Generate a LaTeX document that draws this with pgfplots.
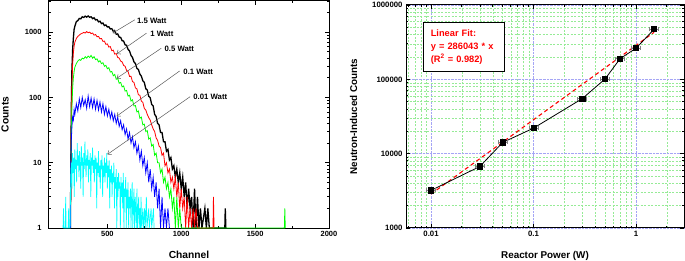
\documentclass[border=0pt]{standalone}
\usepackage{fontspec}
\setmainfont{Liberation Sans}
\usepackage{pgfplots}
\pgfplotsset{compat=1.18}
\usetikzlibrary{arrows.meta}
\definecolor{gridblue}{RGB}{165,165,245}
\definecolor{gridgreen}{RGB}{150,235,150}
\definecolor{cyanc}{RGB}{0,255,255}
\definecolor{greenc}{RGB}{0,255,0}
\definecolor{bluec}{RGB}{0,0,255}
\definecolor{redc}{RGB}{255,0,0}
\begin{document}
\begin{tikzpicture}
\useasboundingbox (-49bp,-33bp) rectangle (636bp,228bp);
\begin{axis}[
  at={(0bp,0bp)}, anchor=south west,
  scale only axis, width=280bp, height=227bp,
  ymode=log, xmin=105, xmax=2000, ymin=1, ymax=3000,
  xtick={500,1000,1500,2000}, xticklabels={500,1000,1500,2000},
  minor xtick={250,750,1250,1750},
  ytick={1,10,100,1000}, yticklabels={1,10,100,1000},
  minor ytick={2,3,4,5,6,7,8,9,20,30,40,50,60,70,80,90,200,300,400,500,600,700,800,900,2000,3000},
  tick align=inside,
  major tick length=4bp, minor tick length=2.5bp,
  axis line style={line width=1bp},
  every tick/.style={black, line width=0.8bp},
  ticklabel style={font=\fontsize{7.5}{9}\selectfont\bfseries},
  yticklabel style={xshift=-4bp},
  xlabel={Channel}, ylabel={Counts},
  label style={font=\fontsize{10.3}{12}\selectfont\bfseries},
  xlabel style={at={(axis description cs:0.5,-0.119)}, anchor=center},
  ylabel style={at={(axis description cs:-0.157,0.5)}, anchor=center},
]
% 1.5 W
\addplot[black, line width=1.3bp] coordinates {
(250,1)(253,12)(256,70)(260,260)(265,540)(270,820)(275,1100)(280,1230)(290,1450)(300,1500)
(310,1620)(320,1600)(330,1720)(340,1680)(350,1760)(360,1700)(370,1770)(380,1690)(390,1720)(400,1610)
(410,1660)(420,1540)(430,1560)(440,1440)(450,1470)(460,1350)(470,1380)(480,1260)(490,1290)(500,1200)
(510,1210)(520,1120)(530,1130)(540,1030)(550,1050)(560,930)(570,940)(580,840)(590,830)(600,740)
(610,730)(620,640)(630,630)(640,545)(650,515)(660,440)(670,410)(680,350)(690,330)(700,278)
(710,268)(720,228)(730,212)(740,180)(750,170)(760,136)(770,130)(780,104)(790,99)(800,78)
(810,74)(820,55)(830,51)(840,40)(850,38)(860,29)(870,29)(880,21)(890,21)(900,15)
(910,16)(920,11)(930,12)(940,8)(950,9)(960,6)(970,8)(980,5)(990,7)(1000,4)
(1010,6)(1020,3)(1030,5)(1040,2)(1050,4)(1060,2)(1070,3)(1080,1)(1090,4)(1100,1)
(1110,3)(1120,1)(1130,2)(1140,1)(1160,2)(1170,1)(1180,2)(1190,1)(1295,1)(1298,2)(1302,1)
};
% 1 W
\addplot[redc, line width=0.8bp] coordinates {
(250,1)(253,10)(256,45)(260,150)(265,320)(270,480)(275,610)(280,700)(290,800)(300,860)
(310,900)(320,940)(330,960)(340,990)(350,970)(360,1020)(370,980)(380,1000)(390,950)(400,970)
(410,900)(420,920)(430,850)(440,860)(450,790)(460,800)(470,720)(480,730)(490,650)(500,660)
(510,590)(520,600)(530,520)(540,530)(550,460)(560,470)(570,410)(580,400)(590,360)(600,350)
(610,310)(620,300)(630,260)(640,250)(650,210)(660,210)(670,175)(680,170)(690,140)(700,135)
(710,110)(720,108)(730,88)(740,84)(750,68)(760,64)(770,55)(780,49)(790,45)(800,38)
(810,33)(820,30)(830,24)(840,22)(850,18)(860,17)(870,13)(880,14)(890,9)(900,10)
(910,7)(920,8)(930,5)(940,6)(950,4)(960,6)(970,3)(980,5)(990,2)(1000,4)
(1010,2)(1020,3)(1030,1)(1040,3)(1050,1)(1060,2)(1070,1)(1080,2)(1090,1)(1100,2)(1110,1)
(1215,1)(1218,3)(1222,1)
};
% 0.5 W
\addplot[greenc, line width=0.8bp] coordinates {
(250,1)(253,8)(256,25)(260,70)(265,140)(270,200)(275,250)(280,290)(290,330)(300,360)
(310,380)(320,370)(330,400)(340,390)(350,420)(360,400)(370,430)(380,410)(390,440)(400,400)
(410,420)(420,380)(430,390)(440,350)(450,365)(460,330)(470,340)(480,300)(490,310)(500,275)
(510,285)(520,245)(530,250)(540,215)(550,225)(560,190)(570,195)(580,165)(590,170)(600,145)
(610,150)(620,125)(630,128)(640,105)(650,108)(660,88)(670,92)(680,74)(690,75)(700,60)
(710,62)(720,48)(730,50)(740,38)(750,39)(760,30)(770,31)(780,23)(790,24)(800,18)
(810,19)(820,13)(830,14)(840,10)(850,10)(860,7)(870,8)(880,5)(890,6)(900,4)
(910,5)(920,3)(930,4)(940,2)(950,3)(960,1)(970,3)(980,1)(990,2)(1000,1)
(1698,1)(1701,2)(1704,1)
};
% 0.1 W
\addplot[bluec, line width=0.8bp] coordinates {
(250,1)(253,10)(256,22)(260,35)(265,50)(270,45)(275,65)(280,55)(290,80)(300,62)
(310,95)(320,70)(330,100)(340,75)(350,92)(360,68)(370,105)(380,72)(390,98)(400,70)
(410,95)(420,66)(430,90)(440,64)(450,85)(460,60)(470,80)(480,55)(490,72)(500,52)
(510,66)(520,48)(530,60)(540,44)(550,55)(560,40)(570,50)(580,36)(590,44)(600,32)
(610,38)(620,27)(630,33)(640,23)(650,29)(660,20)(670,25)(680,17)(690,21)(700,14)
(710,18)(720,11)(730,15)(740,9)(750,12)(760,7)(770,10)(780,5)(790,8)(800,4)
(810,6)(820,3)(830,5)(840,2)(850,4)(860,1)(870,3)(880,1)(890,2)(900,1)(910,2)(920,1)
};
% 0.01 W
\addplot[cyanc, line width=0.7bp] coordinates {
(200,1)(203,2)(206,1)(215,1)(218,3)(221,1)(235,1)(238,2)(241,1)(248,1)
(252,6)(256,10)(260,4)(264,14)(268,7)(272,12)(276,3)(280,16)(284,8)(288,11)
(292,5)(296,20)(300,9)(304,13)(308,6)(312,15)(316,10)(320,4)(324,18)(328,9)
(332,12)(336,3)(340,14)(344,8)(348,21)(352,10)(356,6)(360,13)(364,9)(368,16)
(372,5)(376,11)(380,8)(384,14)(388,3)(392,12)(396,9)(400,17)(404,7)(408,11)
(412,5)(416,13)(420,8)(424,12)(428,2)(432,10)(436,7)(440,15)(444,6)(448,9)
(452,4)(456,11)(460,8)(464,13)(468,3)(472,9)(476,6)(480,12)(484,5)(488,10)
(492,7)(496,14)(500,4)(504,9)(508,6)(512,11)(516,2)(520,8)(524,5)(528,9)
(532,3)(536,7)(540,5)(544,10)(548,2)(552,6)(556,4)(560,8)(564,1)(568,6)
(572,3)(576,7)(580,4)(584,5)(588,1)(592,6)(596,3)(600,5)(604,2)(608,7)
(612,1)(616,4)(620,3)(624,6)(628,1)(632,4)(636,2)(640,5)(644,1)(648,3)
(652,2)(656,4)(660,1)(664,3)(668,5)(672,1)(676,2)(680,4)(684,1)(688,3)
(692,2)(696,1)(700,4)(704,1)(708,2)(712,3)(716,1)(720,2)(724,1)(728,3)
(732,1)(740,2)(744,1)(752,2)(756,1)(764,3)(768,1)(780,2)(784,1)(796,2)(800,1)(812,2)(816,1)
};
\begin{scope}[every node/.style={anchor=west, inner sep=1bp, font=\fontsize{7.8}{9}\selectfont\bfseries}]
\draw[-{Straight Barb[length=3bp,width=5bp]}, gray!70!black, line width=0.5bp] (axis cs:686,1548) -- (axis cs:536,965);
\node at (axis cs:693,1512) {1.5 Watt};
\draw[-{Straight Barb[length=3bp,width=5bp]}, gray!70!black, line width=0.5bp] (axis cs:765,965) -- (axis cs:563,464);
\node at (axis cs:783,932) {1 Watt};
\draw[-{Straight Barb[length=3bp,width=5bp]}, gray!70!black, line width=0.5bp] (axis cs:865,567) -- (axis cs:563,196);
\node at (axis cs:879,554) {0.5 Watt};
\draw[-{Straight Barb[length=3bp,width=5bp]}, gray!70!black, line width=0.5bp] (axis cs:989,254) -- (axis cs:563,51.6);
\node at (axis cs:1007,248) {0.1 Watt};
\draw[-{Straight Barb[length=3bp,width=5bp]}, gray!70!black, line width=0.5bp] (axis cs:1060,102.6) -- (axis cs:500,13.4);
\node at (axis cs:1074,102.6) {0.01 Watt};
\end{scope}
\end{axis}

\begin{axis}[
  at={(357bp,0bp)}, anchor=south west,
  scale only axis, width=278bp, height=223bp,
  xmode=log, ymode=log,
  xmin=0.0057, xmax=2.94, ymin=1000, ymax=1000000,
  xtick={0.01,0.1,1}, xticklabels={0.01,0.1,1},
  minor xtick={0.006,0.007,0.008,0.009,0.02,0.03,0.04,0.05,0.06,0.07,0.08,0.09,0.2,0.3,0.4,0.5,0.6,0.7,0.8,0.9,2},
  ytick={1000,10000,100000,1000000}, yticklabels={1000,10000,100000,1000000},
  minor ytick={2000,3000,4000,5000,6000,7000,8000,9000,20000,30000,40000,50000,60000,70000,80000,90000,200000,300000,400000,500000,600000,700000,800000,900000},
  grid=both,
  major grid style={densely dotted, gridblue, line width=0.6bp},
  minor grid style={dash pattern=on 2bp off 1.5bp, gridgreen, line width=0.45bp},
  tick align=inside,
  major tick length=4bp, minor tick length=2.5bp,
  axis line style={line width=1bp},
  every tick/.style={black, line width=0.8bp},
  ticklabel style={font=\fontsize{7.8}{9}\selectfont\bfseries},
  xlabel={Reactor Power (W)}, ylabel={Neutron-Induced Counts},
  label style={font=\fontsize{9.9}{12}\selectfont\bfseries},
  xlabel style={at={(axis description cs:0.5,-0.1256)}, anchor=center},
  ylabel style={at={(axis description cs:-0.1885,0.5)}, anchor=center},
]
\addplot[redc, line width=1.1bp, dash pattern=on 4bp off 3bp] coordinates {(0.01,2860.43) (1.5,429064.5)};
\addplot[black, line width=0.8bp, mark=square*, mark size=2.6bp, mark options={solid, fill=black},
  error bars/.cd, x dir=both, x explicit,
  error bar style={gray, line width=0.5bp},
  error mark options={gray, line width=0.5bp, mark size=2bp, rotate=90}]
  coordinates {
  (0.01,3206) +- (0.001,0)
  (0.03,6730) +- (0.003,0)
  (0.05,14150) +- (0.005,0)
  (0.1,22030) +- (0.01,0)
  (0.3,55200) +- (0.03,0)
  (0.5,101400) +- (0.05,0)
  (0.7,190000) +- (0.07,0)
  (1,261700) +- (0.1,0)
  (1.5,471000) +- (0.15,0)
};
\node[draw=black, line width=0.9bp, fill=white, anchor=north west, inner xsep=7bp, inner ysep=0bp,
  minimum height=48.4bp, text width=67bp, align=left, text=redc,
  font=\fontsize{9.3}{13.3}\selectfont\bfseries]
  at (axis description cs:0.0625,0.922) {Linear Fit:\\ y = 286043 * x\\ (R\textsuperscript{2} = 0.982)};
\end{axis}
\end{tikzpicture}
\end{document}
